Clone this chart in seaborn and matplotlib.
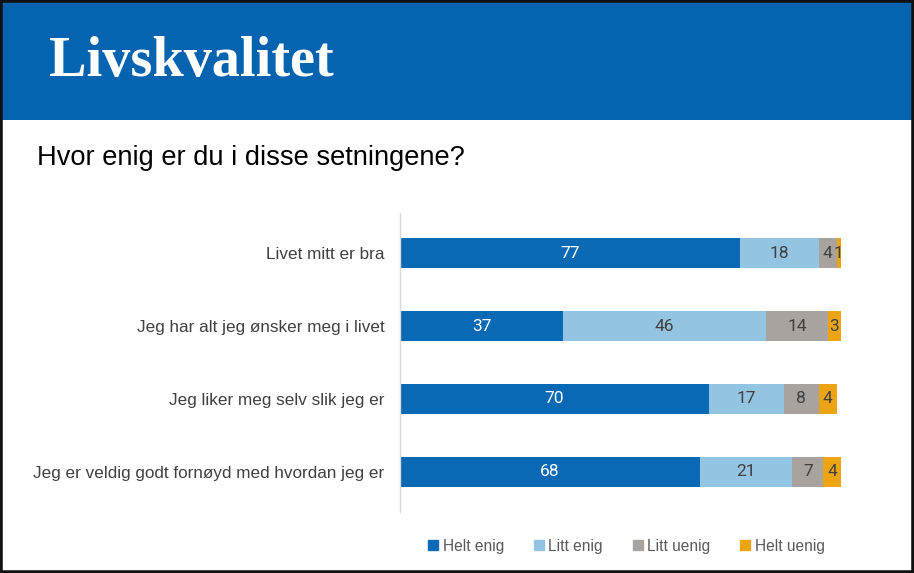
import numpy as np
import pandas as pd
import seaborn as sns
import matplotlib.pyplot as plt
from matplotlib.patches import Rectangle
from matplotlib.lines import Line2D

# data
statements = ['Livet mitt er bra',
              'Jeg har alt jeg ønsker meg i livet',
              'Jeg liker meg selv slik jeg er',
              'Jeg er veldig godt fornøyd med hvordan jeg er']
answers = ['Helt enig', 'Litt enig', 'Litt uenig', 'Helt uenig']
helt_enig = [77, 37, 70, 68]
litt_enig = [18, 46, 17, 21]
litt_uenig = [4, 14, 8, 7]
helt_uenig = [1, 3, 4, 4]

colors = ['#0A69B5', '#93C4E2', '#A9A39F', '#EDA413']
label_colors = ['white', '#404040', '#404040', '#404040']

df = pd.DataFrame({'statement': statements, 'Helt enig': helt_enig,
                   'Litt enig': litt_enig, 'Litt uenig': litt_uenig,
                   'Helt uenig': helt_uenig})
cum = df[answers].cumsum(axis=1)

sns.set_style('white')
plt.rcParams['font.family'] = ['Liberation Sans', 'DejaVu Sans']

fig = plt.figure(figsize=(9.14, 5.73), dpi=100)
ax = fig.add_axes([400 / 914, 1 - 512 / 573, 441 / 914, 299 / 573])

# stacked bars: draw cumulative totals from the outside in
for i in range(len(answers) - 1, -1, -1):
    sns.barplot(x=cum[answers[i]], y=df['statement'], color=colors[i],
                width=0.41, orient='h', ax=ax, saturation=1, linewidth=0)

# segment labels
for r in range(len(statements)):
    left = 0
    for i, a in enumerate(answers):
        v = df.loc[r, a]
        ax.text(left + v / 2, r, str(v), ha='center', va='center',
                color=label_colors[i], fontsize=12.5, family=['Roboto', 'DejaVu Sans'])
        left += v

ax.set_xlim(0, 100)
ax.set_ylim(3.55, -0.55)
ax.set_xlabel('')
ax.set_ylabel('')
ax.set_xticks([])
ax.tick_params(axis='y', length=0, pad=11, labelsize=12.3, labelcolor='#404040')
for s in ['top', 'right', 'bottom']:
    ax.spines[s].set_visible(False)
ax.spines['left'].set_color('#D9D9D9')
ax.spines['left'].set_linewidth(1)

# header band and frame
fig.patches.append(Rectangle((0, 1 - 120 / 573), 1, 120 / 573, transform=fig.transFigure,
                             facecolor='#0663B0', edgecolor='none', zorder=0))
fig.patches.append(Rectangle((0, 0), 1, 1, transform=fig.transFigure,
                             facecolor='none', edgecolor='#111111', linewidth=4, zorder=5))
fig.text(49 / 914, 1 - 62 / 573, 'Livskvalitet', color='white', fontsize=40.5,
         fontweight='bold', family=['Liberation Serif', 'DejaVu Serif'], va='center')
fig.text(37 / 914, 1 - 158 / 573, 'Hvor enig er du i disse setningene?', color='black',
         fontsize=19.6, va='center')

handles = [Line2D([], [], marker='s', linestyle='none', color=c, markersize=7) for c in colors]
fig.legend(handles, answers, loc='center', bbox_to_anchor=(625 / 914, 1 - 546 / 573), ncol=4,
           frameon=False, fontsize=11.2, labelcolor='#595959', handletextpad=0.1,
           columnspacing=1.75, handlelength=1)

fig.savefig('out.png', dpi=100)
